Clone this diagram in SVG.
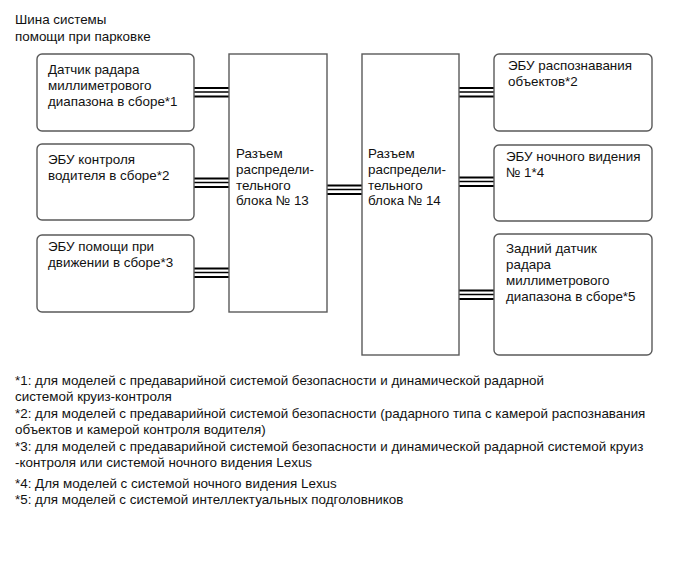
<svg xmlns="http://www.w3.org/2000/svg" width="690" height="562" viewBox="0 0 690 562">
<style>
text{font-family:"Liberation Sans",Arial,sans-serif;font-size:13.4px;fill:#111}
.box{fill:#fff;stroke:#5a5a5a;stroke-width:1.4}
.w1{stroke:#000;stroke-width:2}
.w2{stroke:#000;stroke-width:1.3}
</style>
<rect width="690" height="562" fill="#fff"/>
<g id="title"><text x="15" y="24">Шина системы</text><text x="15" y="41">помощи при парковке</text></g>
<g id="connectors">
<g id="c1"><line class="w1" x1="194" y1="88" x2="229" y2="88"/><line class="w2" x1="194" y1="92" x2="229" y2="92"/><line class="w1" x1="194" y1="96.5" x2="229" y2="96.5"/></g>
<g id="c2"><line class="w1" x1="194" y1="178.5" x2="229" y2="178.5"/><line class="w2" x1="194" y1="182.5" x2="229" y2="182.5"/><line class="w1" x1="194" y1="187" x2="229" y2="187"/></g>
<g id="c3"><line class="w1" x1="194" y1="268.5" x2="229" y2="268.5"/><line class="w2" x1="194" y1="272.5" x2="229" y2="272.5"/><line class="w1" x1="194" y1="277" x2="229" y2="277"/></g>
<g id="c4"><line class="w1" x1="327" y1="185.5" x2="362" y2="185.5"/><line class="w2" x1="327" y1="189.5" x2="362" y2="189.5"/><line class="w1" x1="327" y1="194" x2="362" y2="194"/></g>
<g id="c5"><line class="w1" x1="459" y1="88" x2="494" y2="88"/><line class="w2" x1="459" y1="92" x2="494" y2="92"/><line class="w1" x1="459" y1="96.5" x2="494" y2="96.5"/></g>
<g id="c6"><line class="w1" x1="459" y1="177.5" x2="494" y2="177.5"/><line class="w2" x1="459" y1="181.5" x2="494" y2="181.5"/><line class="w1" x1="459" y1="186" x2="494" y2="186"/></g>
<g id="c7"><line class="w1" x1="459" y1="290.5" x2="494" y2="290.5"/><line class="w2" x1="459" y1="294.5" x2="494" y2="294.5"/><line class="w1" x1="459" y1="299" x2="494" y2="299"/></g>
</g>
<g id="n1"><rect class="box" x="37" y="54" width="157" height="77" rx="5"/><text x="48" y="74">Датчик радара</text><text x="48" y="90">миллиметрового</text><text x="48" y="106">диапазона в сборе*1</text></g>
<g id="n2"><rect class="box" x="37" y="144" width="157" height="76" rx="5"/><text x="48" y="164">ЭБУ контроля</text><text x="48" y="180">водителя в сборе*2</text></g>
<g id="n3"><rect class="box" x="37" y="235" width="157" height="77" rx="5"/><text x="48" y="251">ЭБУ помощи при</text><text x="48" y="267">движении в сборе*3</text></g>
<g id="n13"><rect class="box" x="229" y="54" width="98" height="258"/><text x="236" y="158">Разъем</text><text x="236" y="174">распредели-</text><text x="236" y="190">тельного</text><text x="236" y="205">блока № 13</text></g>
<g id="n14"><rect class="box" x="362" y="54" width="97" height="301"/><text x="368" y="158">Разъем</text><text x="368" y="174">распредели-</text><text x="368" y="190">тельного</text><text x="368" y="205">блока № 14</text></g>
<g id="r1"><rect class="box" x="494" y="54" width="158" height="77" rx="5"/><text x="508" y="70">ЭБУ распознавания</text><text x="508" y="86">объектов*2</text></g>
<g id="r2"><rect class="box" x="494" y="145" width="158" height="76" rx="5"/><text x="506" y="161">ЭБУ ночного видения</text><text x="506" y="177">№ 1*4</text></g>
<g id="r3"><rect class="box" x="494" y="234" width="158" height="121" rx="5"/><text x="506" y="253">Задний датчик</text><text x="506" y="269">радара</text><text x="506" y="285">миллиметрового</text><text x="506" y="301">диапазона в сборе*5</text></g>
<g id="notes">
<text x="15" y="385">*1: для моделей с предаварийной системой безопасности и динамической радарной</text>
<text x="15" y="401">системой круиз-контроля</text>
<text x="15" y="418">*2: для моделей с предаварийной системой безопасности (радарного типа с камерой распознавания</text>
<text x="15" y="434">объектов и камерой контроля водителя)</text>
<text x="15" y="451">*3: для моделей с предаварийной системой безопасности и динамической радарной системой круиз</text>
<text x="15" y="467">-контроля или системой ночного видения Lexus</text>
<text x="15" y="488">*4: Для моделей с системой ночного видения Lexus</text>
<text x="15" y="504">*5: для моделей с системой интеллектуальных подголовников</text>
</g>
</svg>
